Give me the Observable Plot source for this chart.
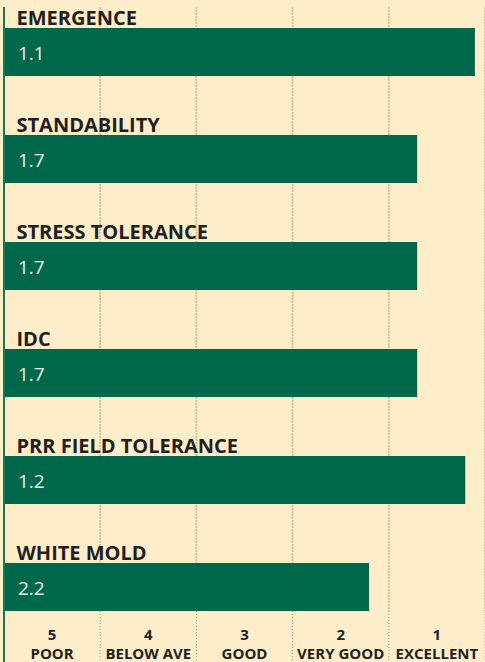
<!DOCTYPE html>
<html>
<head>
<meta charset="utf-8">
<script src="https://cdn.jsdelivr.net/npm/d3@7"></script>
<script src="https://cdn.jsdelivr.net/npm/@observablehq/plot@0.6"></script>
<style>
  html, body { margin: 0; padding: 0; background: #fdeec9; }
  #chart svg { display: block; overflow: visible; }
</style>
</head>
<body>
<div id="chart"></div>
<script>
const categories = ["EMERGENCE", "STANDABILITY", "STRESS TOLERANCE", "IDC", "PRR FIELD TOLERANCE", "WHITE MOLD"];
const scores = [1.1, 1.7, 1.7, 1.7, 1.2, 2.2];
const tickValues = [5, 4, 3, 2, 1];
const tickNames = ["POOR", "BELOW AVE", "GOOD", "VERY GOOD", "EXCELLENT"];

const data = categories.map((name, i) => ({name, value: scores[i], label: scores[i].toFixed(1)}));
const ticks = tickValues.map((v, i) => ({pos: v + 0.5, text: v + "\n" + tickNames[i]}));

const font = "'Open Sans', sans-serif";
const dark = "#231f20";

const chart = Plot.plot({
  width: 485,
  height: 662,
  marginTop: 7,
  marginBottom: 51,
  marginLeft: 0,
  marginRight: 0,
  style: {background: "#fdeec9", fontFamily: font},
  x: {domain: [6, 1], range: [3.5, 484.5]},
  y: {domain: categories, range: [27, 611], paddingInner: 0.552, paddingOuter: 0, axis: null},
  marks: [
    Plot.ruleX(tickValues, {stroke: "#cbb991", strokeWidth: 1.6, strokeDasharray: "2,1"}),
    Plot.axisX({ticks: tickValues, tickSize: 49, tickFormat: () => "", label: null, stroke: "#9d978a", strokeWidth: 1, strokeDasharray: "1,2"}),
    Plot.text(ticks, {x: "pos", text: "text", frameAnchor: "bottom", dy: 31.5, lineAnchor: "middle",
      fontSize: 15, fontWeight: "bold", fill: dark, lineHeight: 1.27}),
    Plot.barX(data, {x1: 6, x2: "value", y: "name", fill: "#00684a"}),
    Plot.ruleX([6], {stroke: "#1e7450", strokeWidth: 2}),
    Plot.axisX({ticks: [6], tickSize: 51, tickFormat: () => "", label: null, stroke: "#1e7450", strokeWidth: 2}),
    Plot.text(data, {x: 6, y: "name", text: "name", textAnchor: "start", dx: 12.5, dy: -33.5,
      fontSize: 20, fontWeight: "bold", fill: dark}),
    Plot.text(data, {x: 6, y: "name", text: "label", textAnchor: "start", dx: 14, dy: 1,
      fontSize: 19, fill: "#e8f1eb"})
  ]
});
document.getElementById("chart").append(chart);
</script>
</body>
</html>
